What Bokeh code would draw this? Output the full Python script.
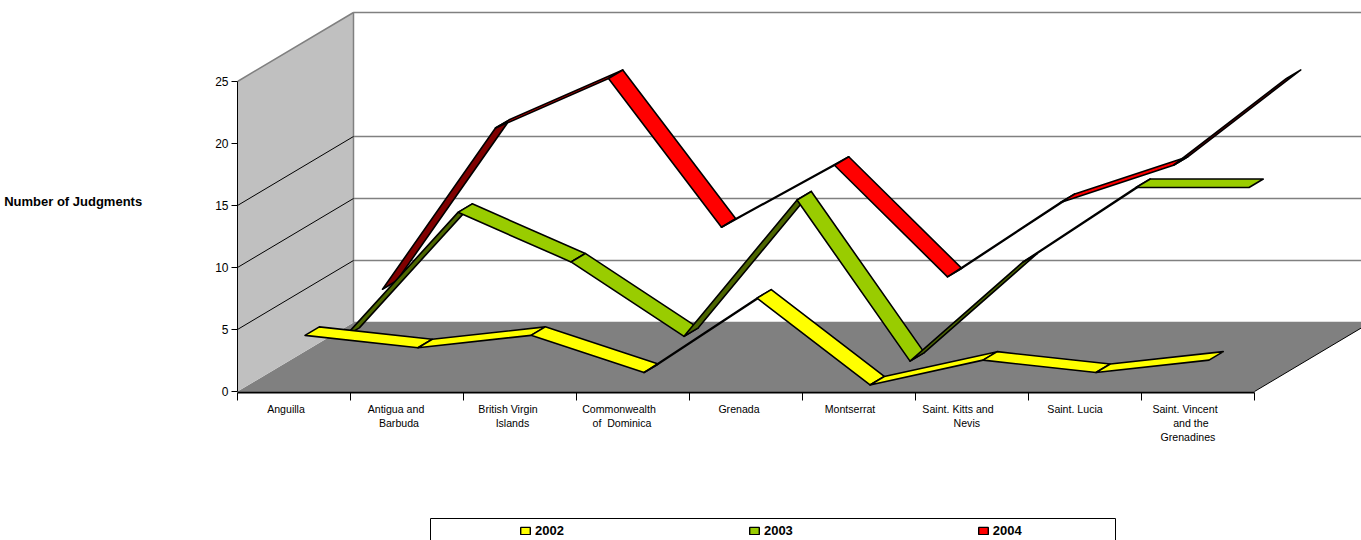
from bokeh.embed import file_html
from bokeh.layouts import column
from bokeh.resources import INLINE
from bokeh.plotting import figure
from bokeh.models import (ColumnDataSource, FixedTicker, Legend, LegendItem,
                          LinearAxis)

# Judgments per jurisdiction and year
NB = "\u00a0"
CATEGORIES = ["Anguilla", "Antigua and\n" + NB * 2 + "Barbuda",
              "British Virgin\n" + NB * 3 + "Islands",
              "Commonwealth\n" + NB * 2 + "of" + NB * 2 + "Dominica", "Grenada", "Montserrat",
              "Saint. Kitts and\n" + NB * 6 + "Nevis", "Saint. Lucia",
              "Saint. Vincent\n" + NB * 4 + "and the\n" + NB * 2 + "Grenadines"]
YEARS = ["2002", "2003", "2004"]
V_2002 = [4, 3, 4, 1, 7, 0, 2, 1, 2]
V_2003 = [2, 12, 8, 2, 13, 0, 8, 14, 14]
V_2004 = [4, 17, 21, 9, 14, 5, 11, 14, 21]
SERIES = [V_2002, V_2003, V_2004]

TOP_COLORS = ["#FFFF00", "#99CC00", "#FF0000"]
UNDER_COLORS = ["#808000", "#4D6600", "#800000"]
Y_TICKS = [0, 5, 10, 15, 20, 25]
WALL_GRID = [5, 10, 15]

# Pixel scale of the oblique projection
PX_PER_CAT, PX_PER_VALUE = 113.0, 12.4
ORIGIN_X, ORIGIN_Y = 237.0, 391.0
FRAME_LEFT, FRAME_TOP, FRAME_BOTTOM = 237, 10, 392
W, H, LEGEND_H = 1361, 540, 40
CHART_H = H - LEGEND_H
DEPTH_X = 116 / PX_PER_CAT       # full floor depth along the category axis
DEPTH_Y = 69 / PX_PER_VALUE      # full floor depth along the value axis
Z_FRONT = [0.095, 0.44, 0.763]   # where each ribbon starts in depth
Z_WIDTH = 0.123                  # ribbon thickness in depth
N = len(CATEGORIES)
Y_TOP = 25

p = figure(width=W, height=CHART_H, output_backend="svg", toolbar_location=None,
           x_range=((FRAME_LEFT - ORIGIN_X) / PX_PER_CAT, (W - ORIGIN_X) / PX_PER_CAT),
           y_range=((ORIGIN_Y - FRAME_BOTTOM) / PX_PER_VALUE, (ORIGIN_Y - FRAME_TOP) / PX_PER_VALUE),
           min_border_left=FRAME_LEFT, min_border_top=FRAME_TOP,
           min_border_right=0, min_border_bottom=CHART_H - FRAME_BOTTOM,
           outline_line_color=None, x_axis_location=None, y_axis_location=None)
p.grid.visible = False

GREY = "#808080"

# Floor
p.patch([0, N, N + DEPTH_X, DEPTH_X], [0, 0, DEPTH_Y, DEPTH_Y],
        fill_color=GREY, line_color=None)
p.line([N, N + DEPTH_X], [0, DEPTH_Y], line_color="black", line_width=1)

# Side wall
p.patch([0, 0, DEPTH_X, DEPTH_X], [0, Y_TOP, Y_TOP + DEPTH_Y, DEPTH_Y],
        fill_color="#C0C0C0", line_color=None)
p.line([0, DEPTH_X, DEPTH_X], [Y_TOP, Y_TOP + DEPTH_Y, DEPTH_Y], line_color=GREY, line_width=1.5)

# Back wall: top edge and gridlines, with their diagonals on the side wall
p.line([DEPTH_X, N + DEPTH_X], [Y_TOP + DEPTH_Y] * 2, line_color=GREY, line_width=1.5)
p.line([DEPTH_X, N + DEPTH_X], [DEPTH_Y] * 2, line_color=GREY, line_width=1.5)
for g in WALL_GRID:
    p.line([DEPTH_X, N + DEPTH_X], [g + DEPTH_Y] * 2, line_color=GREY, line_width=1.5)
    p.line([0, DEPTH_X], [g, g + DEPTH_Y], line_color="black", line_width=1)


def ribbon(values, z0, top, under):
    """One quad per segment; the fill shows which face is turned to the viewer."""
    xs, ys, fills = [], [], []
    z1 = z0 + Z_WIDTH
    for i in range(len(values) - 1):
        a, b = values[i], values[i + 1]
        xa, xb = i + 0.5, i + 1.5
        xs.append([xa + z0 * DEPTH_X, xb + z0 * DEPTH_X, xb + z1 * DEPTH_X, xa + z1 * DEPTH_X])
        ys.append([a + z0 * DEPTH_Y, b + z0 * DEPTH_Y, b + z1 * DEPTH_Y, a + z1 * DEPTH_Y])
        slope = (b - a) * PX_PER_VALUE / PX_PER_CAT
        fills.append(under if slope > DEPTH_Y * PX_PER_VALUE / (DEPTH_X * PX_PER_CAT) else top)
    return ColumnDataSource(dict(xs=xs, ys=ys, fill=fills))


# Rear series first so nearer ribbons overlap them
for s in (2, 1, 0):
    src = ribbon(SERIES[s], Z_FRONT[s], TOP_COLORS[s], UNDER_COLORS[s])
    p.patches("xs", "ys", source=src, fill_color="fill",
              line_color="black", line_width=1.6, line_join="round")

# Value axis
y_axis = LinearAxis(ticker=FixedTicker(ticks=Y_TICKS), bounds=(0, Y_TOP),
                    axis_label="Number of Judgments", axis_label_orientation="horizontal",
                    axis_label_text_font="Liberation Sans", axis_label_text_font_style="bold",
                    axis_label_text_font_size="13px", axis_label_text_color="black",
                    axis_label_standoff=70,
                    major_label_text_font="Liberation Sans", major_label_text_font_size="12px",
                    major_label_text_color="black", major_label_standoff=3,
                    major_tick_in=0, major_tick_out=6, minor_tick_out=0, minor_tick_in=0,
                    axis_line_color="black", major_tick_line_color="black")
p.add_layout(y_axis, "left")

# Category axis: minor ticks mark the boundaries, names sit on unmarked major ticks
LABEL_SHIFT_PX = [-8, -11, -12, -14, -7, -9, -14, -10, -13]
label_ticks = [i + 0.5 + LABEL_SHIFT_PX[i] / PX_PER_CAT for i in range(N)]
name_axis = LinearAxis(ticker=FixedTicker(ticks=label_ticks, minor_ticks=list(range(N + 1))),
                       bounds=(0, N),
                       major_label_overrides={t: c for t, c in zip(label_ticks, CATEGORIES)},
                       major_label_text_font="Liberation Sans", major_label_text_font_size="10.6px",
                       major_label_text_color="black", major_label_standoff=2,
                       major_tick_in=0, major_tick_out=0, minor_tick_in=0, minor_tick_out=8,
                       axis_line_color="black", axis_line_width=2,
                       major_tick_line_color=None, minor_tick_line_color="black")
p.add_layout(name_axis, "below")

# Legend strip: its own figure, whose frame lines up with the chart's, in page pixels.
# The box runs past the bottom edge of the page.
legend_fig = figure(width=W, height=LEGEND_H, output_backend="svg", toolbar_location=None,
                    x_range=(FRAME_LEFT, W), y_range=(H, CHART_H),
                    min_border_left=FRAME_LEFT, min_border_top=0,
                    min_border_right=0, min_border_bottom=0,
                    outline_line_color=None, x_axis_location=None, y_axis_location=None)
legend_fig.grid.visible = False
legend_fig.quad(left=[430], right=[1115], top=[518], bottom=[H + 10],
                fill_color=None, line_color="black", line_width=1)

# Swatch renderers lie beyond the visible range; only their legend glyphs appear
items = []
for s in range(3):
    swatch = legend_fig.rect(x=[-W], y=[-H], width=1, height=1, fill_color=TOP_COLORS[s],
                             line_color="black", line_width=1.4)
    items.append(LegendItem(label=YEARS[s], renderers=[swatch]))
legend = Legend(items=items, orientation="horizontal", location=(519 - FRAME_LEFT, 2),
                glyph_width=12, glyph_height=9, label_standoff=4, spacing=184,
                padding=1, margin=0, border_line_color=None,
                label_text_font="Liberation Sans", label_text_font_style="bold",
                label_text_font_size="13px", label_text_color="black",
                background_fill_color=None)
legend_fig.add_layout(legend, "center")

open("out.html", "w").write(file_html(column(p, legend_fig, spacing=0), INLINE))
